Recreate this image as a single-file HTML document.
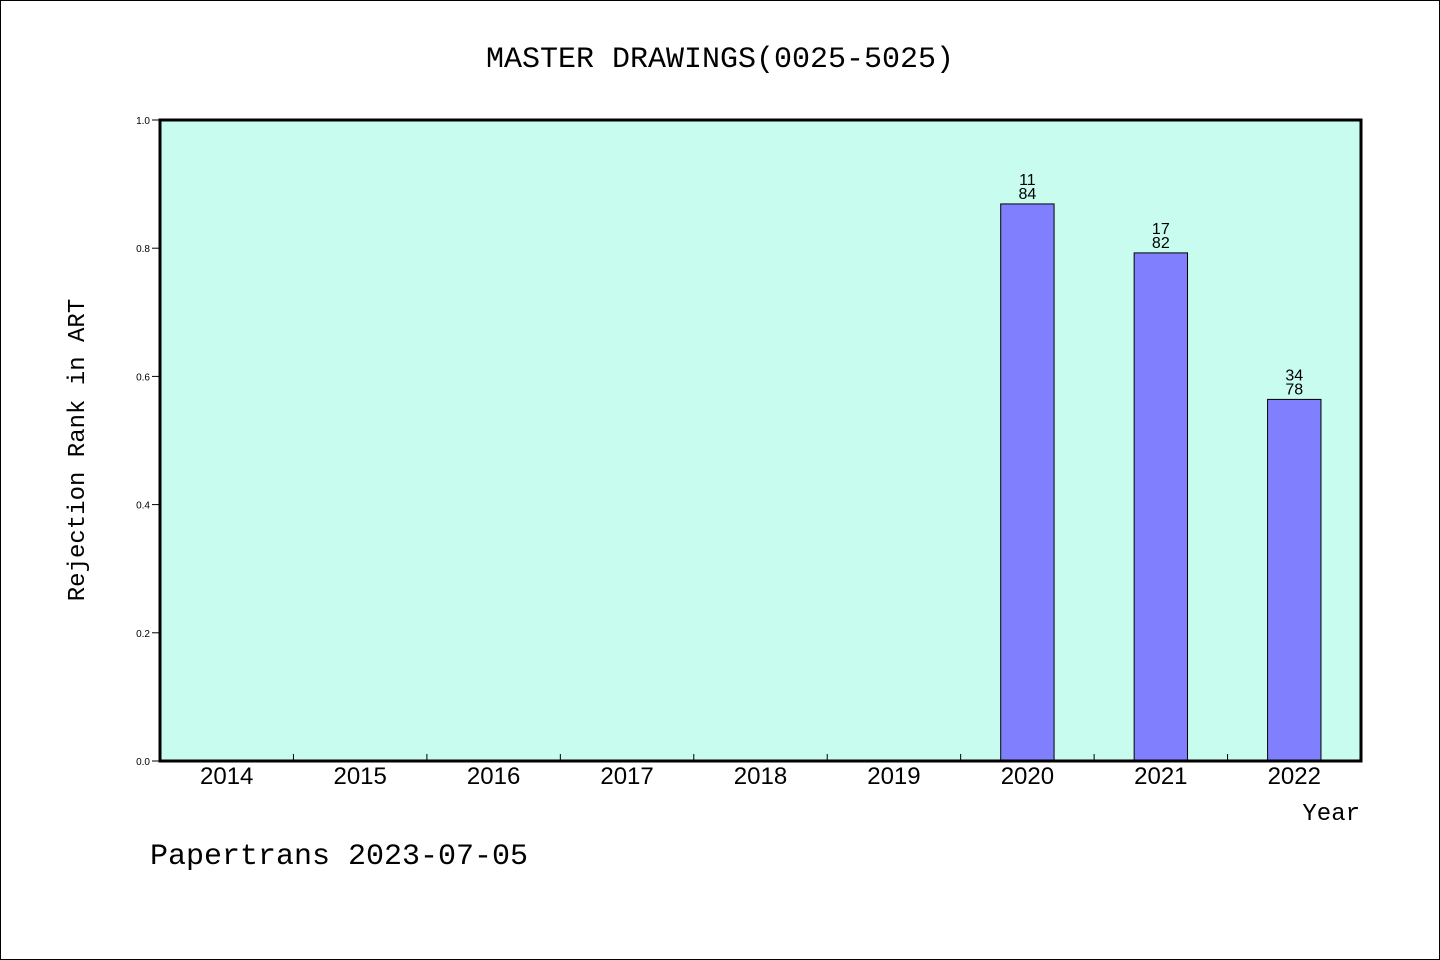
<!DOCTYPE html>
<html><head><meta charset="utf-8"><style>
body{margin:0;background:#fff}
svg{display:block}
text{font-family:"Liberation Sans","DejaVu Sans",sans-serif;fill:#000}
.mono{font-family:"WenQuanYi Zen Hei","Liberation Mono",monospace}
</style></head><body>
<svg id="chart" width="1440" height="960">
<rect x="0.5" y="0.5" width="1439" height="959" fill="#fff" stroke="#000"/>
<text class="mono" x="720" y="67" font-size="30" text-anchor="middle">MASTER DRAWINGS(0025-5025)</text>
<rect x="160" y="120" width="1201" height="641" fill="#c8fcee"/>
<g id="marks"></g>
<rect x="160" y="120" width="1201" height="641" fill="none" stroke="#000" stroke-width="3"/>
<text class="mono" transform="translate(84,450) rotate(-90)" font-size="24" text-anchor="middle">Rejection Rank in ART</text>
<text class="mono" x="1360" y="820" font-size="24" text-anchor="end">Year</text>
<text class="mono" x="150" y="864" font-size="30">Papertrans 2023-07-05</text>
</svg>
<script>
const categories=["2014","2015","2016","2017","2018","2019","2020","2021","2022"];
const ranks=[null,null,null,null,null,null,11,17,34];
const totals=[null,null,null,null,null,null,84,82,78];
const yTicks=[0,0.2,0.4,0.6,0.8,1.0];
const yTickLabels=["0.0","0.2","0.4","0.6","0.8","1.0"];
const X0=160,X1=1361,Y0=761,Y1=120;
const band=(X1-X0)/categories.length;
const xC=i=>X0+band*(i+0.5);
const y=v=>Y0-(Y0-Y1)*v;
const ns="http://www.w3.org/2000/svg";
const g=document.getElementById('marks');
function mk(t,a){const e=document.createElementNS(ns,t);for(const k in a)e.setAttribute(k,a[k]);g.appendChild(e);return e;}
yTicks.forEach((v,i)=>{
 const l=mk('line',{x1:X0-8,x2:X0,y1:y(v),y2:y(v),stroke:'#000'});
 
 
 const t=mk('text',{x:X0-10,y:y(v)+4,'font-size':10,'text-anchor':'end'});
 t.textContent=yTickLabels[i];
 
 
});
categories.forEach((c,i)=>{
 if(i>0){const l=mk('line',{x1:X0+band*i,x2:X0+band*i,y1:Y0-7,y2:Y0,stroke:'#000'});
  
  }
 const t=mk('text',{x:xC(i),y:784,'font-size':24,'text-anchor':'middle'});
 t.textContent=c;
 
 
 if(ranks[i]!=null){
  const v=1-ranks[i]/totals[i];
  const w=band*0.4;
  const r=mk('rect',{x:xC(i)-w/2,y:y(v),width:w,height:Y0-y(v),fill:'#8080ff',stroke:'#000','stroke-width':1});
  
  
  const t1=mk('text',{x:xC(i),y:y(v)-19,'font-size':16,'text-anchor':'middle'});
  t1.textContent=ranks[i];
  
  
  const t2=mk('text',{x:xC(i),y:y(v)-5,'font-size':16,'text-anchor':'middle'});
  t2.textContent=totals[i];
  
  
 }
});
</script>
</body></html>
